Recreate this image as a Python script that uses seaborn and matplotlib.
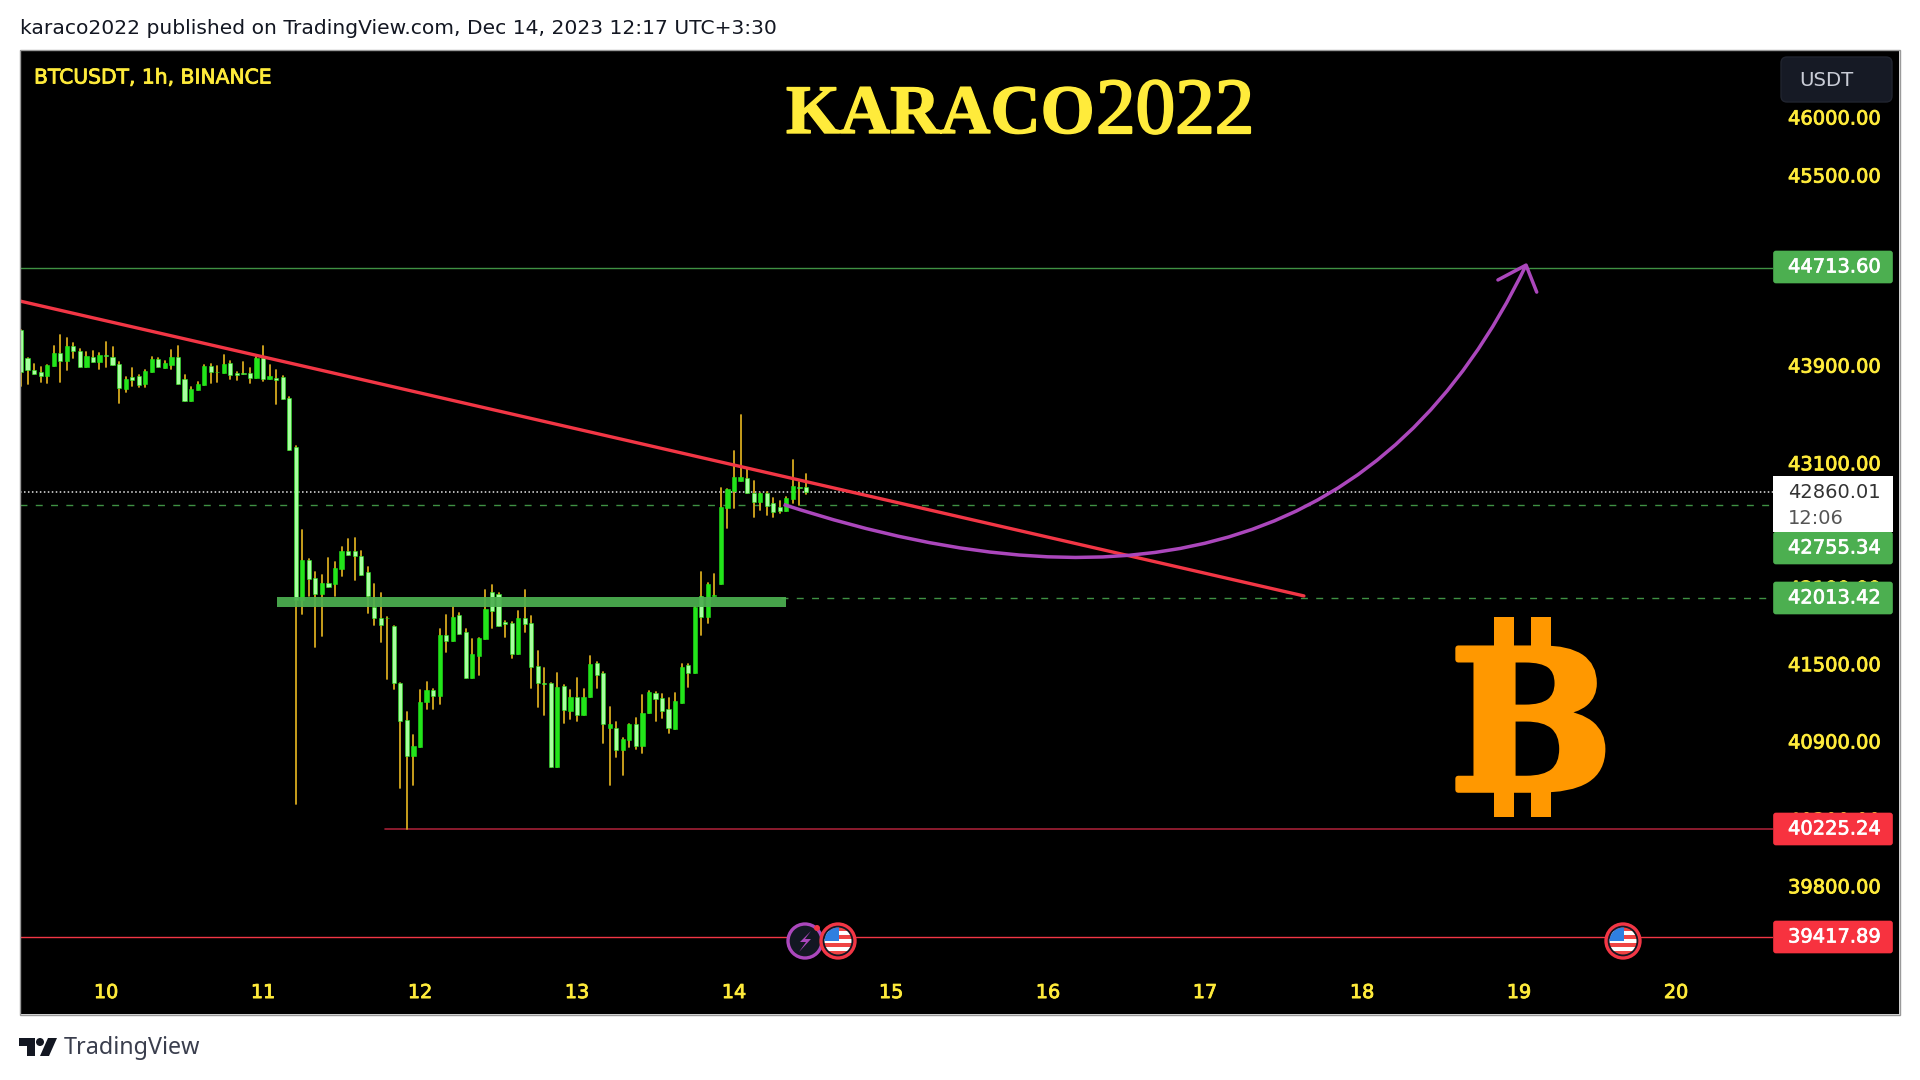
import numpy as np
import pandas as pd
import seaborn as sns
import matplotlib
matplotlib.use("Agg")
import matplotlib.pyplot as plt
import matplotlib.patheffects as pe
from matplotlib.patches import Circle, PathPatch, Polygon, Rectangle, FancyBboxPatch
from matplotlib.path import Path
from matplotlib.ticker import NullLocator

# -------------------------------
# Data (BTCUSDT 1h, first candle Dec 9 11:00)
# -------------------------------
opens = [44189, 43961, 43862, 43847, 43813, 43890, 44004, 43933, 44055, 44013,
         43887, 43970, 43927, 43984, 43970, 43913, 43705, 43805, 43807, 43742,
         43842, 43950, 43879, 43904, 43970, 43785, 43605, 43699, 43736, 43890,
         43847, 43836, 43919, 43836, 43833, 43836, 43790, 43961, 43785, 43790,
         43799, 43628, 43229, 42000, 42320, 42176, 42049, 42136, 42128, 42248,
         42391, 42391, 42347, 42224, 41942, 41855, 41860, 41796, 41352, 41063,
         40785, 40856, 41205, 41296, 41249, 41725, 41680, 41883, 41749, 41389,
         41560, 41693, 42067, 42049, 41825, 41816, 41575, 41857, 41821, 41485,
         41348, 41352, 40699, 41327, 41135, 41239, 41102, 41239, 41503, 41430,
         41003, 41003, 40831, 40908, 41032, 40862, 41115, 41275, 41236, 41146,
         40990, 41197, 41490, 41430, 42033, 41869, 42033, 42127, 42732, 42875,
         42953, 42975, 42858, 42786, 42858, 42772, 42745, 42713, 42805, 42901,
         42902]
highs = [44189, 43961, 43913, 43884, 43904, 44055, 44146, 44126, 44084, 44033,
         44007, 44013, 43998, 44092, 44047, 43927, 43799, 43876, 43819, 43862,
         43970, 43961, 43933, 44027, 44055, 43819, 43722, 43762, 43899, 43913,
         43893, 43984, 43933, 43847, 43927, 43876, 43970, 44055, 43904, 43856,
         43813, 43634, 43235, 42559, 42328, 42224, 42200, 42335, 42303, 42423,
         42487, 42495, 42391, 42264, 42128, 42057, 41867, 41796, 41352, 41127,
         40947, 41296, 41360, 41303, 41772, 41883, 41948, 41896, 41772, 41693,
         41703, 42081, 42120, 42057, 41832, 41824, 41917, 42081, 41875, 41602,
         41469, 41352, 41430, 41335, 41296, 41391, 41301, 41560, 41511, 41438,
         41161, 41050, 40924, 41032, 41076, 41257, 41288, 41283, 41265, 41231,
         41268, 41495, 41495, 41946, 42221, 42133, 42208, 42893, 42885, 43198,
         43486, 43056, 42953, 42858, 42866, 42812, 42791, 42821, 43121, 42947,
         43011]
lows = [43728, 43742, 43827, 43762, 43756, 43890, 43762, 43862, 43956, 43887,
        43887, 43927, 43870, 43884, 43899, 43591, 43677, 43728, 43722, 43719,
        43842, 43887, 43879, 43870, 43748, 43605, 43605, 43699, 43736, 43756,
        43762, 43836, 43785, 43779, 43825, 43756, 43790, 43770, 43785, 43577,
        43620, 43207, 40415, 41890, 42033, 41631, 41717, 42100, 42033, 42192,
        42359, 42160, 42196, 41899, 41804, 41670, 41381, 41303, 40541, 40225,
        40564, 40856, 41146, 41148, 41187, 41594, 41680, 41731, 41389, 41389,
        41412, 41693, 41780, 41796, 41706, 41545, 41575, 41752, 41311, 41166,
        41102, 40699, 40699, 41037, 41068, 41057, 41102, 41239, 41308, 40885,
        40564, 40775, 40640, 40852, 40836, 40806, 41115, 41057, 41076, 40960,
        40990, 41197, 41317, 41430, 41725, 41821, 42033, 42127, 42573, 42732,
        42953, 42853, 42660, 42719, 42679, 42665, 42692, 42713, 42777, 42759,
        42848]
closes = [43842, 43856, 43827, 43813, 43899, 44004, 43933, 44055, 44013, 43887,
          43976, 43927, 43984, 43978, 43899, 43713, 43785, 43776, 43734, 43853,
          43950, 43887, 43919, 43970, 43748, 43605, 43705, 43742, 43890, 43842,
          43842, 43913, 43822, 43819, 43825, 43790, 43961, 43785, 43807, 43779,
          43620, 43207, 42000, 42320, 42168, 42049, 42136, 42100, 42256, 42391,
          42359, 42347, 42196, 42033, 41855, 41804, 41855, 41348, 41055, 40785,
          40864, 41205, 41296, 41249, 41725, 41680, 41869, 41731, 41389, 41576,
          41703, 41930, 41917, 41796, 41815, 41575, 41857, 41812, 41477, 41348,
          41340, 40699, 41317, 41141, 41239, 41102, 41239, 41495, 41412, 41032,
          41032, 40831, 40913, 41032, 40862, 41120, 41283, 41224, 41135, 40998,
          41210, 41477, 41425, 41943, 41864, 42127, 42040, 42745, 42885, 42988,
          42988, 42853, 42786, 42853, 42751, 42705, 42713, 42812, 42911, 42895,
          42860]

price_ticks = [46000, 45500, 43900, 43100, 42100, 41500, 40900, 40300, 39800]
day_ticks = [10, 11, 12, 13, 14, 15, 16, 17, 18, 19, 20]

level_tp = 44713.60
level_last = 42860.01
level_entry = 42755.34
level_zone = 42013.42
level_low = 40225.24
level_stop = 39417.89

trend_days = [9.452, 17.63]
trend_prices = [44433, 42033]

# purple curve tool: start, control, end
curve_days = [14.316, 17.771, 19.045]
curve_prices = [42763, 41358, 44735]
arrow_days = [18.866, 19.045, 19.113]
arrow_prices = [44610, 44735, 44508]

# -------------------------------
# Colors
# -------------------------------
YELLOW = "#ffeb3b"
GREEN = "#4caf50"
RED = "#f23645"
PURPLE = "#ab47bc"
CANDLE_UP = "#22e51a"
CANDLE_DOWN = "#a8ffa0"
WICK = "#d8aa1e"
ORANGE = "#ff9800"
DARK = "#131722"

# -------------------------------
# Figure / axes
# -------------------------------
sns.set_theme(style="dark", rc={"axes.facecolor": "black", "figure.facecolor": "white"})
plt.rcParams["font.family"] = ["DejaVu Sans"]

W, H = 1920, 1080
fig = plt.figure(figsize=(W / 100, H / 100), dpi=100)

# black frame behind price and time scales
ax_bg = fig.add_axes([20 / W, 1 - 1015 / H, 1880 / W, 965 / H], zorder=0)
ax_bg.set_xticks([])
ax_bg.set_yticks([])

ax = fig.add_axes([20 / W, 1 - 965 / H, 1753 / W, 915 / H], zorder=1)
ax.set_facecolor("black")
for s in ax.spines.values():
    s.set_visible(False)

# -------------------------------
# Candles
# -------------------------------
n = len(opens)
candles = pd.DataFrame({"open": opens, "high": highs, "low": lows, "close": closes})
candles["day"] = 9 + 11 / 24 + np.arange(n) / 24
candles["id"] = np.arange(n)

wicks = candles.melt(id_vars=["id", "day"], value_vars=["high", "low"], value_name="price")
sns.lineplot(data=wicks, x="day", y="price", units="id", estimator=None, sort=False,
             color=WICK, lw=1.3, ax=ax, zorder=2)

top = candles[["open", "close"]].max(axis=1)
bottom = candles[["open", "close"]].min(axis=1)
up = candles["close"] > candles["open"]
body_colors = np.where(up, CANDLE_UP, CANDLE_DOWN)
ax.bar(candles["day"], top - bottom, bottom=bottom, width=4.2 / 157, color=body_colors,
       edgecolor=CANDLE_UP, linewidth=0.4, zorder=3)


def hline(price, x0, x1, **kw):
    sns.lineplot(x=[x0, x1], y=[price, price], ax=ax, **kw)


# -------------------------------
# Levels and drawings
# -------------------------------
XMIN, XMAX = 9.452, 20.618
hline(level_tp, XMIN, XMAX, color="#3f9143", lw=1, zorder=1)
hline(level_last, XMIN, XMAX, color="#e8e8e8", lw=1.1, linestyle=(0, (1, 1.6)), zorder=1)
hline(level_entry, XMIN, XMAX, color="#3f9143", lw=1, linestyle=(0, (5, 6)), zorder=1)
hline(level_zone, 14.3, XMAX, color="#3f9143", lw=1, linestyle=(0, (5, 6)), zorder=1)
hline(level_low, 11.78, XMAX, color="#a32035", lw=1.2, zorder=1)
hline(level_stop, XMIN, XMAX, color=RED, lw=1, zorder=1)

# support zone
ax.add_patch(Rectangle((11.09, 41945), 14.33 - 11.09, 80, color=GREEN, alpha=0.93, lw=0, zorder=4))

sns.lineplot(x=trend_days, y=trend_prices, color=RED, lw=2.4, ax=ax, zorder=5)
ax.add_patch(PathPatch(Path(list(zip(curve_days, curve_prices)), [Path.MOVETO, Path.CURVE3, Path.CURVE3]),
                       fc="none", ec=PURPLE, lw=2.5, zorder=6))
sns.lineplot(x=arrow_days, y=arrow_prices, color=PURPLE, lw=2.5, sort=False, ax=ax, zorder=6)

# -------------------------------
# Scales
# -------------------------------
ax.set_yscale("log")
ax.set_xlim(XMIN, XMAX)
ax.set_ylim(39211, 46584)
ax.set_xlabel("")
ax.set_ylabel("")
ax.set_xticks(day_ticks)
ax.set_xticklabels([str(d) for d in day_ticks])
ax.yaxis.tick_right()
ax.set_yticks(price_ticks)
ax.set_yticklabels([f"{p:.2f}" for p in price_ticks])
ax.yaxis.set_minor_locator(NullLocator())
ax.tick_params(axis="x", length=0, pad=13, colors=YELLOW, labelsize=13.8)
ax.tick_params(axis="y", length=0, pad=10.8, colors=YELLOW, labelsize=14)
ax.grid(False)
heavy_yellow = [pe.withStroke(linewidth=0.6, foreground=YELLOW)]
heavy_white = [pe.withStroke(linewidth=0.5, foreground="white")]
for lab in ax.get_xticklabels() + ax.get_yticklabels():
    lab.set_path_effects(heavy_yellow)

# -------------------------------
# Overlay in pixel space: labels, logos, icons
# -------------------------------
ov = fig.add_axes([0, 0, 1, 1], zorder=5)
ov.set_xlim(0, W)
ov.set_ylim(H, 0)
ov.axis("off")

ov.add_patch(Rectangle((20, 50), 1880, 965, fc="none", ec="#9a9a9a", lw=1))


def price_box(y, text, bg, fg="white"):
    ov.add_patch(FancyBboxPatch((1774, y - 15.5), 118, 31, boxstyle="round,pad=0,rounding_size=2",
                                fc=bg, ec=bg, lw=1.2))
    ov.text(1788, y, text, color=fg, fontsize=14, va="center", ha="left", path_effects=heavy_white)


price_box(267, f"{level_tp:.2f}", GREEN)
price_box(548, f"{level_entry:.2f}", GREEN)
price_box(598, f"{level_zone:.2f}", GREEN)
price_box(829, f"{level_low:.2f}", "#f7323f")
price_box(937, f"{level_stop:.2f}", "#f7323f")

ov.add_patch(Rectangle((1773, 476), 120, 56, fc="white", ec="none"))
ov.text(1788, 493, f"{level_last:.2f}", color="#333333", fontsize=14, va="center")
ov.text(1788, 518, "12:06", color="#555555", fontsize=14, va="center")

ov.add_patch(FancyBboxPatch((1781, 57), 111, 45, boxstyle="round,pad=0,rounding_size=6",
                            fc="#161a25", ec="#20242f", lw=1))
ov.text(1799, 80, "USDT", color="#c9ccd6", fontsize=14.2, va="center", ha="left")

ov.text(20, 28, "karaco2022 published on TradingView.com, Dec 14, 2023 12:17 UTC+3:30",
        color=DARK, fontsize=14.55, va="center", ha="left")
ov.text(34, 78, "BTCUSDT, 1h, BINANCE", color=YELLOW, fontsize=14.6, va="center", ha="left",
        path_effects=heavy_yellow)

# title: bold letters, lighter digits
ov.text(786, 133, "KARACO", color=YELLOW, fontsize=50, family="Liberation Serif",
        fontweight="bold", va="baseline", ha="left", path_effects=[pe.withStroke(linewidth=1, foreground=YELLOW)])
ov.text(1096, 133, "2022", color=YELLOW, fontsize=57, family="Liberation Serif",
        va="baseline", ha="left", path_effects=[pe.withStroke(linewidth=1.6, foreground=YELLOW)])

# bitcoin logo
ov.text(1449, 790, "B", color=ORANGE, fontsize=140, family="DejaVu Serif", fontweight="bold",
        va="baseline", ha="left", path_effects=[pe.withStroke(linewidth=4, foreground=ORANGE)])
for bx in (1494, 1531):
    ov.add_patch(Rectangle((bx, 617), 20, 33, fc=ORANGE, ec="none"))
    ov.add_patch(Rectangle((bx, 788), 20, 29, fc=ORANGE, ec="none"))


def flag_icon(cx, cy):
    ov.add_patch(Circle((cx, cy), 17, fc=DARK, ec=RED, lw=2.4))
    disc = Circle((cx, cy), 13.5, transform=ov.transData)
    for i in range(7):
        c = "#ef4444" if i % 2 == 0 else "white"
        r = Rectangle((cx - 14, cy - 14 + i * 4), 28, 4, fc=c, ec="none")
        ov.add_patch(r)
        r.set_clip_path(disc)
    r = Rectangle((cx - 14, cy - 14), 15, 14, fc="#2f7fe0", ec="none")
    ov.add_patch(r)
    r.set_clip_path(disc)


ov.add_patch(Circle((805, 941), 17, fc=DARK, ec=PURPLE, lw=2.4))
ov.add_patch(Polygon([(811, 931), (800, 942), (806, 942), (799, 952), (811, 939), (805, 939)],
                     fc=PURPLE, ec="none"))
ov.add_patch(Circle((817, 928), 3, fc=RED, ec="none"))
flag_icon(838, 941)
flag_icon(1623, 941)

# TradingView footer
ov.add_patch(Polygon([(19, 1038), (35, 1038), (35, 1056), (27, 1056), (27, 1046), (19, 1046)], fc=DARK, ec="none"))
ov.add_patch(Circle((40, 1042), 4, fc=DARK, ec="none"))
ov.add_patch(Polygon([(48, 1038), (57, 1038), (49, 1056), (40, 1056)], fc=DARK, ec="none"))
ov.text(64, 1048, "TradingView", color="#3a3e4d", fontsize=16.8, family="Noto Sans", va="center", ha="left")

fig.savefig("out.png", dpi=100)
plt.close(fig)
